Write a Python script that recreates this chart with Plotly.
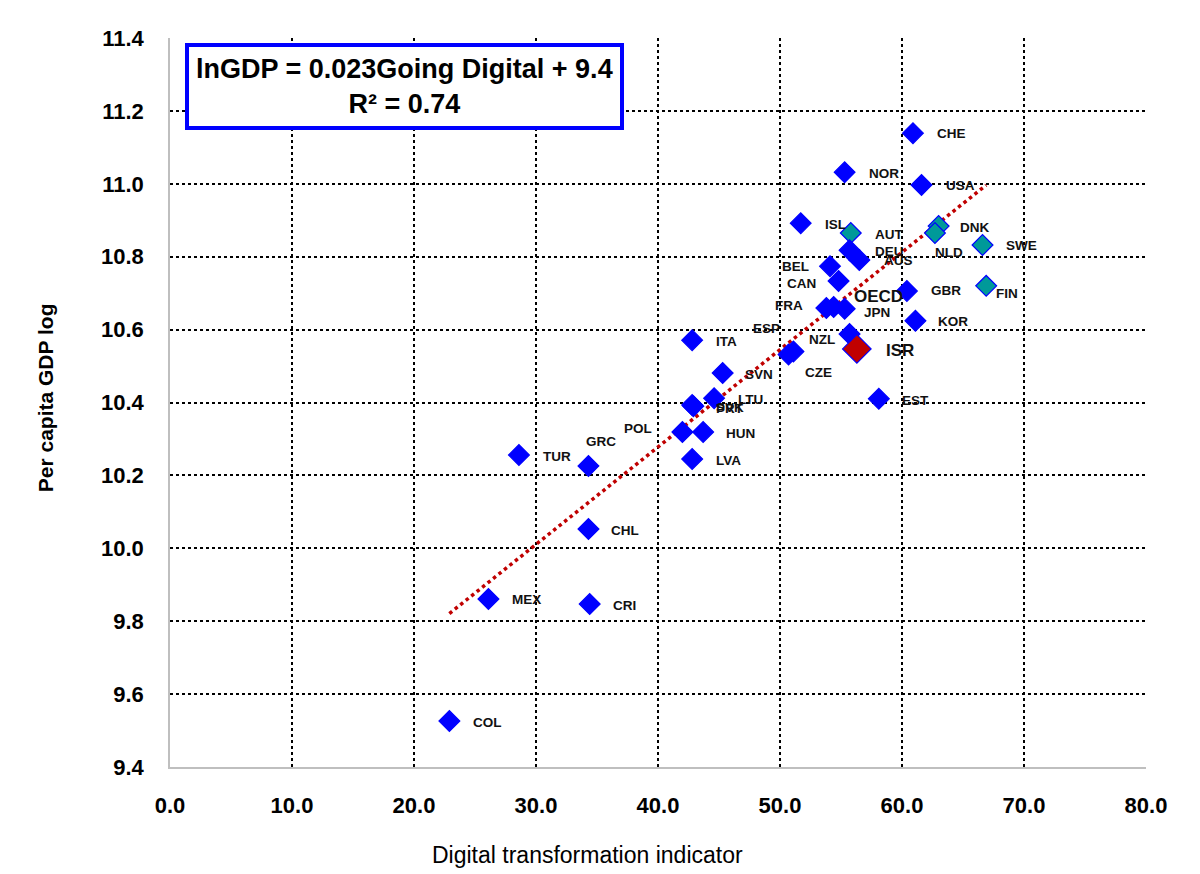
import numpy as np
import plotly.graph_objects as go

# ---- data ----
countries = ["CHE", "NOR", "USA", "ISL", "AUT", "DNK", "NLD", "SWE", "DEU", "AUS",
             "BEL", "CAN", "GBR", "FIN", "FRA", "OECD", "JPN", "KOR", "NZL", "ISR",
             "ESP", "CZE", "ITA", "SVN", "LTU", "SVK", "PRT", "POL", "HUN", "LVA",
             "TUR", "GRC", "CHL", "MEX", "CRI", "COL", "EST"]
digital = [60.9, 55.3, 61.6, 51.7, 55.8, 63.0, 62.7, 66.6, 55.7, 56.5,
           54.1, 54.8, 60.4, 66.9, 53.8, 54.4, 55.3, 61.1, 55.7, 56.3,
           51.1, 50.7, 42.8, 45.3, 44.6, 42.8, 42.9, 42.0, 43.7, 42.8,
           28.6, 34.3, 34.3, 26.1, 34.4, 22.9, 58.1]
ln_gdp = [11.139, 11.032, 10.997, 10.892, 10.865, 10.884, 10.865, 10.832, 10.818, 10.791,
          10.774, 10.733, 10.706, 10.720, 10.659, 10.662, 10.657, 10.624, 10.588, 10.547,
          10.540, 10.532, 10.571, 10.481, 10.412, 10.393, 10.390, 10.319, 10.319, 10.245,
          10.256, 10.226, 10.053, 9.861, 9.847, 9.526, 10.410]
teal_group = ["AUT", "DNK", "NLD", "SWE", "FIN"]
highlight = ["ISR"]
equation_text = "lnGDP = 0.023Going Digital + 9.4<br>R² = 0.74"
x_ticks = [0, 10, 20, 30, 40, 50, 60, 70, 80]
y_ticks = [9.4, 9.6, 9.8, 10.0, 10.2, 10.4, 10.6, 10.8, 11.0, 11.2, 11.4]

# label placement (style only): (xshift px, yshift px, xanchor)
label_pos = {
    "CHE": (22, 0, "left"), "NOR": (22, -1, "left"), "USA": (22, -1, "left"),
    "ISL": (22, -1, "left"), "AUT": (22, -1, "left"), "DNK": (19, -1, "left"),
    "NLD": (-2, -19, "left"), "SWE": (21, 0, "left"), "DEU": (23, -1, "left"),
    "AUS": (23, -1, "left"), "BEL": (-19, 0, "right"), "CAN": (-21, -2, "right"),
    "GBR": (22, 0, "left"), "FIN": (8, -8, "left"), "FRA": (-21, 3, "right"),
    "OECD": (18, 11, "left"), "JPN": (17, -4, "left"), "KOR": (21, -1, "left"),
    "NZL": (-13, -6, "right"), "ISR": (27, -2, "left"), "ESP": (-11, 23, "right"),
    "CZE": (14, -18, "left"), "ITA": (22, -1, "left"), "SVN": (20, -2, "left"),
    "LTU": (22, -1, "left"), "SVK": (22, -2, "left"), "PRT": (21, -2, "left"),
    "POL": (-28, 4, "right"), "HUN": (21, -1, "left"), "LVA": (22, -1, "left"),
    "TUR": (22, -2, "left"), "GRC": (-4, 24, "left"), "CHL": (21, -2, "left"),
    "MEX": (22, -1, "left"), "CRI": (21, -1, "left"), "COL": (22, -1, "left"),
    "EST": (21, -2, "left"),
}

FONT = "Liberation Sans, Arial, sans-serif"
BLUE = "#0000FF"
TEAL = "#009999"
RED = "#C00000"

fig = go.Figure()

# trend line (least-squares fit of the data)
slope, intercept = np.polyfit(digital, ln_gdp, 1)
xfit = np.array([min(digital), max(digital)])
fig.add_trace(go.Scatter(x=xfit, y=slope * xfit + intercept, mode="lines",
                         line=dict(color=RED, width=3.5, dash="dot"),
                         hoverinfo="skip", showlegend=False))

colors, sizes = [], []
for c in countries:
    if c in highlight:
        colors.append(RED); sizes.append(22)
    elif c in teal_group:
        colors.append(TEAL); sizes.append(16)
    else:
        colors.append(BLUE); sizes.append(16)

order = [i for i, c in enumerate(countries) if c not in highlight] + \
        [i for i, c in enumerate(countries) if c in highlight]
fig.add_trace(go.Scatter(
    x=[digital[i] for i in order], y=[ln_gdp[i] for i in order], mode="markers",
    marker=dict(symbol="diamond", size=[sizes[i] for i in order], opacity=1,
                color=[colors[i] for i in order], line=dict(color=BLUE, width=1.2)),
    text=[countries[i] for i in order], hoverinfo="text", showlegend=False))

for c, x, y in zip(countries, digital, ln_gdp):
    dx, dy, anc = label_pos[c]
    big = c in ("OECD", "ISR")
    fig.add_annotation(x=x, y=y, xref="x", yref="y", text=f"<b>{c}</b>",
                       showarrow=False, xanchor=anc, yanchor="middle",
                       xshift=dx, yshift=dy,
                       font=dict(family=FONT, size=17 if big else 13.5, color="#111111"))

# equation box
fig.add_annotation(x=0.24, y=0.934, xref="paper", yref="paper", text=f"<b>{equation_text}</b>",
                   showarrow=False, xanchor="center", yanchor="middle", align="center",
                   font=dict(family=FONT, size=27, color="#000000"),
                   bgcolor="white", bordercolor=BLUE, borderwidth=4, borderpad=7)

# axis titles
fig.add_annotation(x=-0.128, y=0.506, xref="paper", yref="paper", text="<b>Per capita GDP log</b>",
                   textangle=-90, showarrow=False, xanchor="center", yanchor="middle",
                   font=dict(family=FONT, size=21, color="#000000"))
fig.add_annotation(x=0.428, y=-0.121, xref="paper", yref="paper", text="Digital transformation indicator",
                   showarrow=False, xanchor="center", yanchor="middle",
                   font=dict(family=FONT, size=23, color="#000000"))

# outer chart border
fig.add_shape(type="rect", xref="paper", yref="paper", x0=-0.168, x1=1.07, y0=-0.2, y1=1.045,
              line=dict(color="#BFBFBF", width=1.5), fillcolor="rgba(0,0,0,0)", layer="below")

fig.update_xaxes(range=[0, 80], tickvals=x_ticks, ticktext=[f"{v:.1f}" for v in x_ticks],
                 showgrid=True, gridcolor="#000000", griddash="dot", gridwidth=1.5,
                 showline=True, linecolor="#BFBFBF", linewidth=1.5, zeroline=False,
                 ticks="", ticklabelstandoff=18,
                 tickfont=dict(family=FONT, size=22, color="#000000", weight="bold"))
fig.update_yaxes(range=[9.4, 11.4], tickvals=y_ticks, ticktext=[f"{v:.1f}" for v in y_ticks],
                 showgrid=True, gridcolor="#000000", griddash="dot", gridwidth=1.5,
                 showline=True, linecolor="#BFBFBF", linewidth=1.5, zeroline=False,
                 ticks="", ticklabelstandoff=20,
                 tickfont=dict(family=FONT, size=22, color="#000000", weight="bold"))

fig.update_layout(width=1200, height=874, margin=dict(l=162, r=62, t=30, b=115),
                  plot_bgcolor="white", paper_bgcolor="white", showlegend=False)

fig.write_html("out.html")
